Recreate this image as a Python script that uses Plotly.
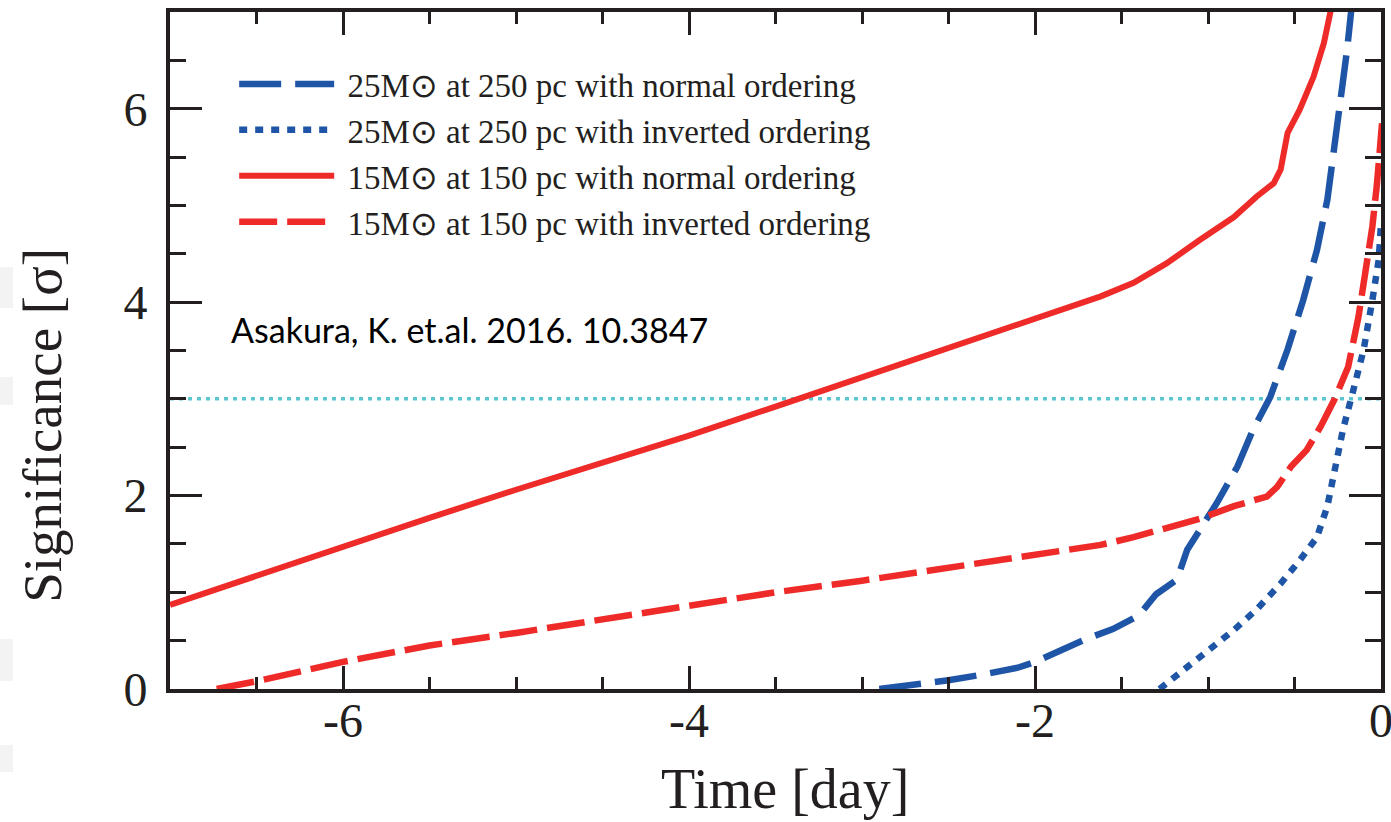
import plotly.graph_objects as go

# ---------------- data ----------------
# 25 Msun at 250 pc, normal ordering
t_25_no = [-2.90, -2.70, -2.50, -2.30, -2.10, -2.00, -1.85, -1.70, -1.55, -1.40, -1.30,
           -1.18, -1.12, -1.045, -0.95, -0.83, -0.74, -0.64, -0.54, -0.45, -0.37, -0.31,
           -0.27, -0.235, -0.196, -0.17]
s_25_no = [0.00, 0.04, 0.09, 0.15, 0.22, 0.28, 0.40, 0.52, 0.62, 0.76, 0.98,
           1.13, 1.44, 1.64, 1.92, 2.30, 2.68, 3.02, 3.51, 4.02, 4.54, 5.06,
           5.57, 6.09, 6.61, 7.05]

# 25 Msun at 250 pc, inverted ordering
t_25_io = [-1.28, -1.12, -0.99, -0.85, -0.72, -0.58, -0.47, -0.37, -0.31, -0.27,
           -0.22, -0.16, -0.10, -0.05, -0.013, 0.0]
s_25_io = [0.00, 0.23, 0.40, 0.61, 0.82, 1.09, 1.33, 1.57, 1.89, 2.23,
           2.68, 3.09, 3.51, 4.02, 4.44, 4.81]

# 15 Msun at 150 pc, normal ordering
t_15_no = [-7.00, -6.50, -6.00, -5.50, -5.00, -4.50, -4.00, -3.50, -3.00, -2.50,
           -2.00, -1.62, -1.43, -1.24, -1.05, -0.85, -0.72, -0.62, -0.58, -0.54,
           -0.47, -0.39, -0.33, -0.29]
s_15_no = [0.87, 1.17, 1.48, 1.77, 2.06, 2.34, 2.62, 2.92, 3.22, 3.52,
           3.82, 4.06, 4.20, 4.40, 4.64, 4.88, 5.09, 5.23, 5.37, 5.75,
           5.99, 6.33, 6.68, 7.02]

# 15 Msun at 150 pc, inverted ordering
t_15_io = [-6.73, -6.50, -6.00, -5.50, -5.00, -4.50, -4.00, -3.50, -3.00, -2.50,
           -2.00, -1.62, -1.43, -1.24, -1.05, -0.85, -0.66, -0.60, -0.52, -0.43,
           -0.35, -0.27, -0.19, -0.13, -0.08, -0.05, -0.023, 0.0, 0.006]
s_15_io = [0.00, 0.08, 0.28, 0.45, 0.58, 0.72, 0.85, 1.00, 1.12, 1.25,
           1.38, 1.49, 1.57, 1.66, 1.76, 1.89, 1.99, 2.09, 2.30, 2.47,
           2.71, 2.99, 3.33, 3.85, 4.37, 4.78, 5.23, 5.68, 5.85]

# 3 sigma threshold line
t_thr = [-7.0, 0.0]
s_thr = [3.0, 3.0]

names = [
    "\u00a025M⊙ at 250 pc with normal ordering",
    "\u00a025M⊙ at 250 pc with inverted ordering",
    "\u00a015M⊙ at 150 pc with normal ordering",
    "\u00a015M⊙ at 150 pc with inverted ordering",
]

x_ticks = [-6, -4, -2, 0]
x_ticklabels = ["-6", "-4", "-2", "0"]
y_ticks = [0, 2, 4, 6]
y_ticklabels = ["0", "2", "4", "6"]

# ---------------- styles ----------------
RED = "#ee2b28"
BLUE = "#1f55a6"
CYAN = "#5cc6d0"
INK = "#231f20"
SERIF = "Liberation Serif, Times New Roman, serif"

fig = go.Figure()

fig.add_trace(go.Scatter(x=t_thr, y=s_thr, mode="lines", showlegend=False,
                         line=dict(color=CYAN, width=3.5, dash="4px,5px")))

fig.add_trace(go.Scatter(x=t_25_no, y=s_25_no, mode="lines", name=names[0],
                         legendgroup="a",
                         line=dict(color=BLUE, width=6.5, dash="42px,14px")))
fig.add_trace(go.Scatter(x=t_25_io, y=s_25_io, mode="lines", name=names[1],
                         legendgroup="b",
                         line=dict(color=BLUE, width=6.5, dash="8px,8px")))
fig.add_trace(go.Scatter(x=t_15_no, y=s_15_no, mode="lines", name=names[2],
                         legendgroup="c",
                         line=dict(color=RED, width=6)))
fig.add_trace(go.Scatter(x=t_15_io, y=s_15_io, mode="lines", name=names[3],
                         legendgroup="d",
                         line=dict(color=RED, width=6.5, dash="38px,10px")))

fig.add_annotation(x=-6.66, y=3.72, xref="x", yref="y", xanchor="left", yanchor="middle",
                   text="Asakura, K. et.al. 2016. 10.3847", showarrow=False,
                   font=dict(family="Lato, Liberation Sans, sans-serif", size=34, color="#000000"))

# axis titles
fig.add_annotation(x=0.508, y=-0.148, xref="paper", yref="paper", xanchor="center", yanchor="middle",
                   text="Time [day]", showarrow=False,
                   font=dict(family=SERIF, size=56, color=INK))
fig.add_annotation(x=-0.105, y=0.39, xref="paper", yref="paper", xanchor="center", yanchor="middle",
                   text="Significance [σ]", showarrow=False, textangle=-90,
                   font=dict(family=SERIF, size=55, color=INK))

# faint scan artefacts at the left page edge
for y0, y1 in [(267, 308), (377, 405), (639, 681), (745, 772)]:
    fig.add_shape(type="rect", xref="paper", yref="paper",
                  x0=(0 - 170) / 1211, x1=(13 - 170) / 1211,
                  y0=(689 - y1) / 677, y1=(689 - y0) / 677,
                  fillcolor="#f3f3f3", line=dict(width=0), layer="below")

axis_common = dict(
    showline=True, linecolor=INK, linewidth=4, mirror="allticks",
    ticks="inside", tickcolor=INK, tickwidth=3,
    showgrid=False, zeroline=False, automargin=False,
    ticklabeloverflow="allow",
    tickfont=dict(family=SERIF, size=48, color=INK),
)

fig.update_xaxes(**axis_common, range=[-7, 0], tickvals=x_ticks, ticktext=x_ticklabels,
                 ticklen=23, ticklabelstandoff=-14,
                 minor=dict(dtick=0.5, ticks="inside", ticklen=12, tickwidth=3, tickcolor=INK))
fig.update_yaxes(**axis_common, range=[0, 7], tickvals=y_ticks, ticktext=y_ticklabels,
                 ticklen=32, ticklabelstandoff=9,
                 minor=dict(dtick=0.5, ticks="inside", ticklen=16, tickwidth=3, tickcolor=INK))

fig.update_layout(
    width=1391, height=822,
    margin=dict(l=170, r=10, t=12, b=133, autoexpand=False),
    paper_bgcolor="white", plot_bgcolor="white",
    showlegend=True,
    legend=dict(x=0.053, y=0.935, xanchor="left", yanchor="top",
                bgcolor="rgba(0,0,0,0)", borderwidth=0,
                font=dict(family=SERIF, size=33, color=INK),
                traceorder="grouped", tracegroupgap=0, itemwidth=95),
)

fig.write_html("out.html")
